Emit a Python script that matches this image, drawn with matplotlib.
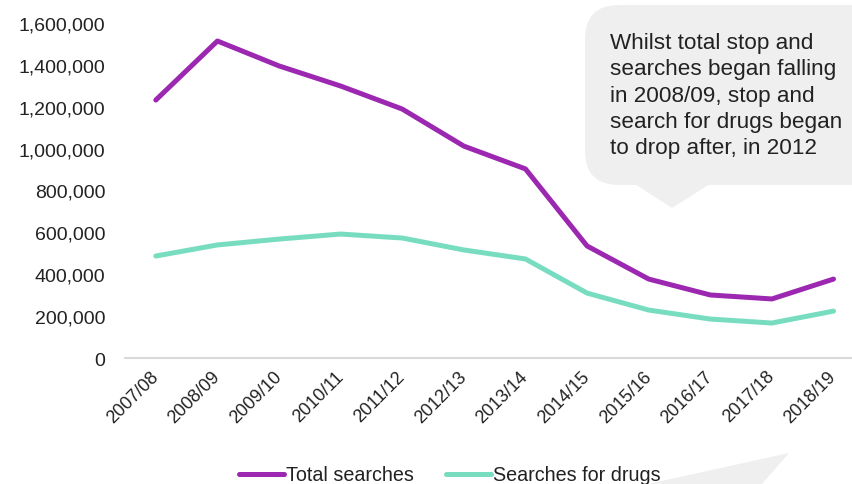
"""
Stop and search: total searches vs searches for drugs, 2007/08 - 2018/19.
"""

import matplotlib
matplotlib.use("Agg")
import matplotlib.pyplot as plt
from matplotlib.patches import FancyBboxPatch, Polygon
from matplotlib.ticker import FuncFormatter

plt.rcParams['font.family'] = ['Liberation Sans', 'DejaVu Sans']

# Data
years = ['2007/08', '2008/09', '2009/10', '2010/11', '2011/12', '2012/13',
         '2013/14', '2014/15', '2015/16', '2016/17', '2017/18', '2018/19']
total_searches = [1232000, 1514000, 1395000, 1299000, 1189000, 1012000,
                  903000, 535000, 377000, 301000, 282000, 377000]
drug_searches = [487000, 540000, 568000, 592000, 573000, 516000,
                 473000, 310000, 229000, 186000, 167000, 224000]

PURPLE = '#9C27B0'
TEAL = '#78DDC0'
BUBBLE = '#EFEFEF'
TEXT = '#222222'

W, H = 852, 485
fig = plt.figure(figsize=(W / 100, H / 100), dpi=100)
ax = fig.add_axes([125 / W, 1 - 359 / H, 1 - 125 / W, (359 - 24) / H])

# call-out bubble behind the chart
fig.patches.append(FancyBboxPatch((585 / W, 1 - 186 / H), 300 / W, 180 / H,
                                  boxstyle="round,pad=0,rounding_size=0.04",
                                  transform=fig.transFigure, facecolor=BUBBLE,
                                  edgecolor='none', zorder=0, mutation_aspect=W / H))
fig.patches.append(Polygon([(635 / W, 1 - 185 / H), (710 / W, 1 - 185 / H), (672 / W, 1 - 209 / H)],
                           closed=True, transform=fig.transFigure, facecolor=BUBBLE,
                           edgecolor='none', zorder=0))
fig.patches.append(Polygon([(648 / W, 0), (789 / W, 1 - 454 / H), (762 / W, 0)],
                           closed=True, transform=fig.transFigure, facecolor=BUBBLE,
                           edgecolor='none', zorder=0))
fig.text(610 / W, 1 - 33 / H,
         "Whilst total stop and\nsearches began falling\nin 2008/09, stop and\nsearch for drugs began\nto drop after, in 2012",
         fontsize=16.2, color=TEXT, va='top', ha='left', linespacing=1.33)

ax.patch.set_alpha(0)
x = range(len(years))
ax.plot(x, total_searches, color=PURPLE, lw=3.6, solid_capstyle='round',
        solid_joinstyle='round', label='Total searches')
ax.plot(x, drug_searches, color=TEAL, lw=3.6, solid_capstyle='round',
        solid_joinstyle='round', label='Searches for drugs')

ax.set_xlim(-0.5, 11.3)
ax.set_ylim(0, 1600000)
ax.set_yticks(range(0, 1600001, 200000))
ax.yaxis.set_major_formatter(FuncFormatter(lambda v, p: f"{int(v):,}"))
ax.set_xticks(list(x))
ax.set_xticklabels(years, rotation=45, ha='right', va='center', rotation_mode='anchor')

for s in ['top', 'right', 'left']:
    ax.spines[s].set_visible(False)
ax.spines['bottom'].set_color('#D9D9D9')
ax.spines['bottom'].set_linewidth(1.5)
ax.tick_params(axis='both', length=0, colors=TEXT)
ax.tick_params(axis='y', labelsize=14, pad=14)
ax.tick_params(axis='x', labelsize=13, pad=11)

fig.legend(loc='center', bbox_to_anchor=(450 / W, 1 - 476 / H), ncol=2, frameon=False,
           fontsize=14.2, handlelength=2.3, handletextpad=0.1, columnspacing=1.6,
           labelcolor=TEXT)

fig.savefig('out.png', dpi=100, facecolor='white')
